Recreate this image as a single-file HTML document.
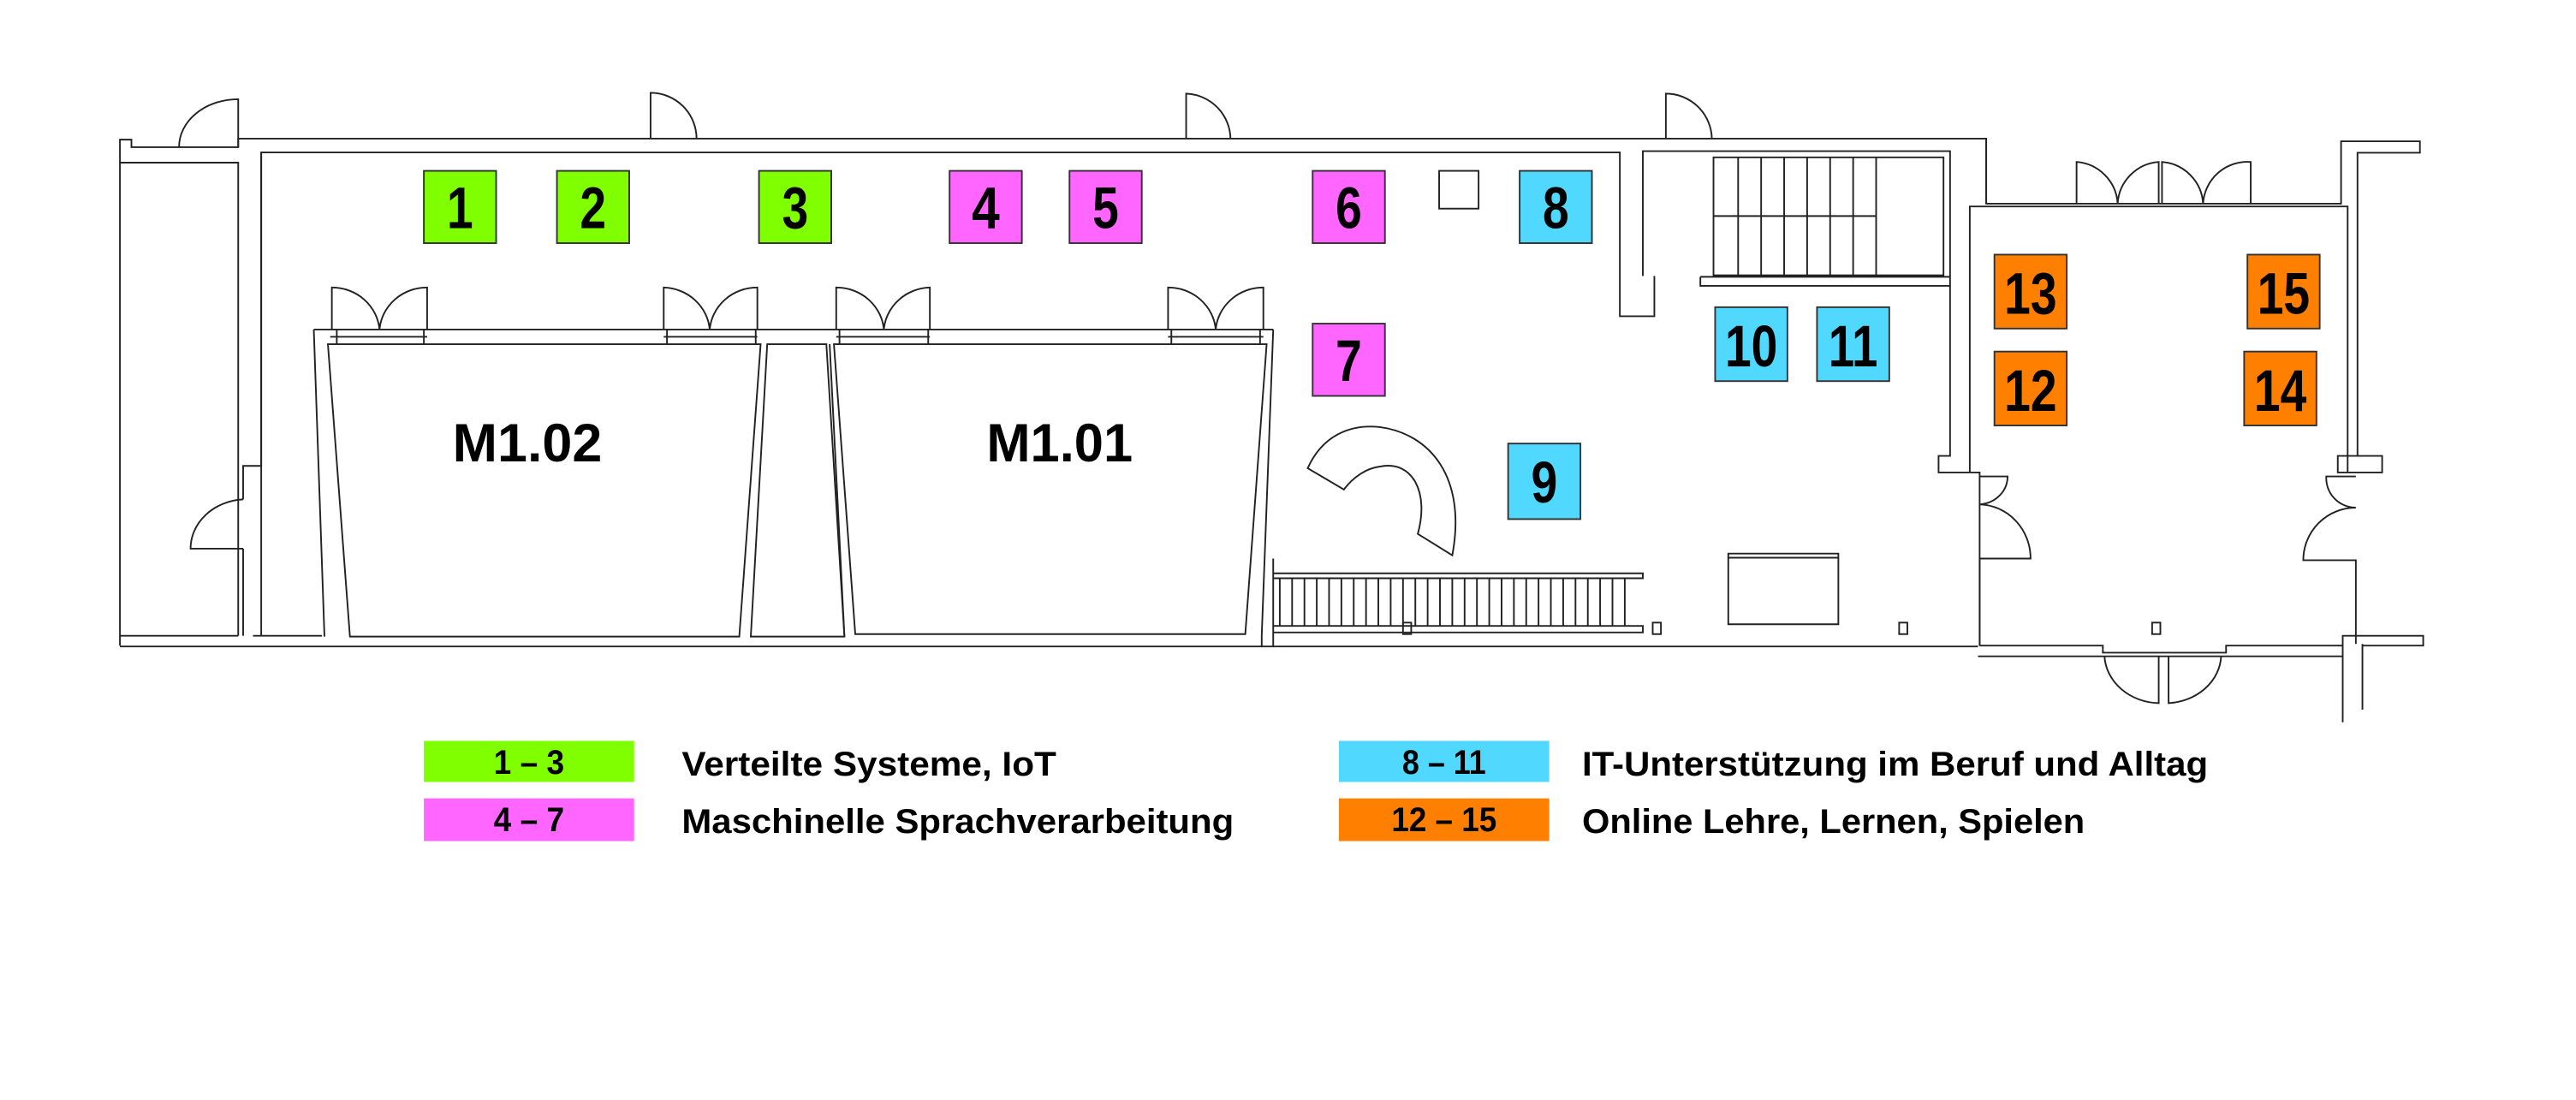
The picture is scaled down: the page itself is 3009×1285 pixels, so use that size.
<!DOCTYPE html>
<html><head><meta charset="utf-8"><style>
html,body{margin:0;padding:0;background:#fff;}
svg{display:block;}
.n{font-family:"Liberation Sans Narrow","Liberation Sans",sans-serif;font-weight:bold;fill:#000;text-anchor:middle;}
.l{font-family:"Liberation Sans Narrow","Liberation Sans",sans-serif;font-weight:bold;fill:#000;}
</style></head><body>
<svg width="3009" height="1285" viewBox="0 0 1568 669.6" preserveAspectRatio="none" xmlns="http://www.w3.org/2000/svg">
<rect width="1568" height="669.6" fill="#fff"/>
<g fill="none" stroke="#222" stroke-width="1">
<path d="M73,393 V85 H80 V89.6 H145 V84.4 H1209 V124"/>
<path d="M73,99 H145 V387"/>
<path d="M159,387 V92.8 H986 V192.5 H1007 V168"/>
<path d="M159,92.8 V283.6 H148 V304"/>
<path d="M148,334 V387"/>
<path d="M73,387 H145 M154,387 H196 M73,393.5 H1204"/>
<path d="M145,89.6 V60.4 A36,29 0 0 0 109,89.6"/>
<path d="M396,84.4 V56.5 A28,28 0 0 1 424,84.4"/>
<path d="M722,84.4 V57 A28,28 0 0 1 749,84.4"/>
<path d="M1014,84.4 V57 A28,28 0 0 1 1042,84.4"/>
<path d="M148,304 A34,30 0 0 0 116,334 H148"/>
<path d="M191,200.6 H775 M191,200.6 L197.5,387.5 M199.6,209.5 H463 L450,387.5 H213 Z"/>
<path d="M467,209.5 H503 L514,387.5 H457 Z"/>
<path d="M507.6,209.5 H771 L758,386 H520.6 Z"/>
<path d="M505,209.5 L514,387.5 M775,200.6 L768,387"/>
<path d="M201,205 H260 M404,205 H461 M509,205 H566 M711,205 H769"/>
<path d="M205,209.5 V200.6 M258,209.5 V200.6 M406,209.5 V200.6 M460,209.5 V200.6 M511,209.5 V200.6 M565,209.5 V200.6 M713,209.5 V200.6 M767,209.5 V200.6"/>
<path d="M202,200.6 V175 A29,28 0 0 1 231,200.6 M260,200.6 V175 A29,28 0 0 0 231,200.6"/>
<path d="M404,200.6 V175 A29,28 0 0 1 432,200.6 M461,200.6 V175 A29,28 0 0 0 432,200.6"/>
<path d="M509,200.6 V175 A29,28 0 0 1 538,200.6 M566,200.6 V175 A29,28 0 0 0 538,200.6"/>
<path d="M711,200.6 V175 A29,28 0 0 1 740,200.6 M769,200.6 V175 A29,28 0 0 0 740,200.6"/>
<path d="M1000,168 V92 H1187 V277.5 H1180 V287.6 H1205 V393"/>
<path d="M1209,84.4 V124 H1425 V86 H1473 V93 H1435 V277.5 H1423 V287.6 H1450 V277.5 H1435"/>
<path d="M1199,287.6 V125.7 H1429 V287.6"/>
<path d="M1043,95.8 H1183 V167.6 H1043 Z M1043,131.5 H1142"/>
<path d="M1058,95.8 V167.6 M1072,95.8 V167.6 M1086,95.8 V167.6 M1100,95.8 V167.6 M1114,95.8 V167.6 M1128,95.8 V167.6 M1142,95.8 V167.6"/>
<path d="M1035,168.5 H1187 M1035,168.5 V174 H1187"/>
<path d="M1264,124 V98.6 A27,27 0 0 1 1289,124 M1314,124 V98.6 A27,27 0 0 0 1289,124"/>
<path d="M1316,124 V98.6 A27,27 0 0 1 1341,124 M1370,124 V98.6 A27,27 0 0 0 1341,124"/>
<path d="M1205,290 H1222 A18,17 0 0 1 1205,307 A32,33 0 0 1 1236,340 H1205 V393"/>
<path d="M1434,290 H1416 A18,18 0 0 0 1434,309 A32,32 0 0 0 1402,341 H1434 V392"/>
<path d="M1205,393 H1280 V397.3 H1355 V393 H1426 V439.7 M1426,393 V387 H1438 M1438,392 V432 M1438,387 H1475 V393 H1438"/>
<path d="M1204,399.5 H1426"/>
<path d="M1281,399.5 A34,30 0 0 0 1314,428 V399.5 M1352,399.5 A34,30 0 0 1 1320,428 V399.5"/>
<path d="M775,349 H1000 V352 H775 M775,381 H1000 V385 H775 M775,340 V393.5 M768,387 V393.5"/>
<path d="M779,352V381M786.5,352V381M794,352V381M801.5,352V381M809,352V381M816.5,352V381M824,352V381M831.5,352V381M839,352V381M846.5,352V381M854,352V381M861.5,352V381M869,352V381M876.5,352V381M884,352V381M891.5,352V381M899,352V381M906.5,352V381M914,352V381M921.5,352V381M929,352V381M936.5,352V381M944,352V381M951.5,352V381M959,352V381M966.5,352V381M974,352V381M981.5,352V381M989,352V381"/>
<path d="M1052,337 H1119 V380 H1052 Z M1052,339.5 H1119"/>
<rect x="854" y="379" width="5" height="7"/>
<rect x="1006" y="379" width="5" height="7"/>
<rect x="1156" y="379" width="5" height="7"/>
<rect x="1310" y="379" width="5" height="7"/>
<rect x="876" y="104" width="24" height="23"/>
<path d="M796,285 C805,265 822,258 840,260 C870,264 893,290 884,338 L863,325 C870,300 860,280 840,284 C832,285 824,290 818,298 Z"/>
</g>
<g stroke="#333" stroke-width="1">
<rect x="258" y="104" width="44" height="44" fill="#80ff00"/>
<rect x="339" y="104" width="44" height="44" fill="#80ff00"/>
<rect x="462" y="104" width="44" height="44" fill="#80ff00"/>
<rect x="578" y="104" width="44" height="44" fill="#ff66ff"/>
<rect x="651" y="104" width="44" height="44" fill="#ff66ff"/>
<rect x="799" y="104" width="44" height="44" fill="#ff66ff"/>
<rect x="799" y="197" width="44" height="44" fill="#ff66ff"/>
<rect x="925" y="104" width="44" height="44" fill="#50d8ff"/>
<rect x="918" y="270" width="44" height="46" fill="#50d8ff"/>
<rect x="1044" y="187" width="44" height="45" fill="#50d8ff"/>
<rect x="1106" y="187" width="44" height="45" fill="#50d8ff"/>
<rect x="1214" y="155" width="44" height="45" fill="#ff8000"/>
<rect x="1368" y="155" width="44" height="45" fill="#ff8000"/>
<rect x="1214" y="214" width="44" height="45" fill="#ff8000"/>
<rect x="1366" y="214" width="44" height="45" fill="#ff8000"/>
</g>
<g class="n" font-size="36">
<text x="280" y="139" textLength="16" lengthAdjust="spacingAndGlyphs">1</text>
<text x="361" y="139" textLength="16" lengthAdjust="spacingAndGlyphs">2</text>
<text x="484" y="139" textLength="16" lengthAdjust="spacingAndGlyphs">3</text>
<text x="600" y="139" textLength="17" lengthAdjust="spacingAndGlyphs">4</text>
<text x="673" y="139" textLength="16" lengthAdjust="spacingAndGlyphs">5</text>
<text x="821" y="139" textLength="16" lengthAdjust="spacingAndGlyphs">6</text>
<text x="821" y="232" textLength="16" lengthAdjust="spacingAndGlyphs">7</text>
<text x="947" y="139" textLength="16" lengthAdjust="spacingAndGlyphs">8</text>
<text x="940" y="306" textLength="16" lengthAdjust="spacingAndGlyphs">9</text>
<text x="1066" y="223" textLength="32" lengthAdjust="spacingAndGlyphs">10</text>
<text x="1128" y="223" textLength="30" lengthAdjust="spacingAndGlyphs">11</text>
<text x="1236" y="191" textLength="32" lengthAdjust="spacingAndGlyphs">13</text>
<text x="1390" y="191" textLength="32" lengthAdjust="spacingAndGlyphs">15</text>
<text x="1236" y="250" textLength="32" lengthAdjust="spacingAndGlyphs">12</text>
<text x="1388" y="250" textLength="32" lengthAdjust="spacingAndGlyphs">14</text>
</g>
<g class="n" font-size="33">
<text x="321" y="281" textLength="91" lengthAdjust="spacingAndGlyphs">M1.02</text>
<text x="645" y="281" textLength="89" lengthAdjust="spacingAndGlyphs">M1.01</text>
</g>
<rect x="258" y="451" width="128" height="25" fill="#80ff00"/>
<rect x="258" y="486" width="128" height="26" fill="#ff66ff"/>
<rect x="815" y="451" width="128" height="25" fill="#50d8ff"/>
<rect x="815" y="486" width="128" height="26" fill="#ff8000"/>
<g class="n" font-size="21">
<text x="322" y="471" textLength="43" lengthAdjust="spacingAndGlyphs">1 – 3</text>
<text x="322" y="506" textLength="43" lengthAdjust="spacingAndGlyphs">4 – 7</text>
<text x="879" y="471" textLength="51" lengthAdjust="spacingAndGlyphs">8 – 11</text>
<text x="879" y="506" textLength="64" lengthAdjust="spacingAndGlyphs">12 – 15</text>
</g>
<g class="l" font-size="21">
<text x="415" y="472" textLength="228" lengthAdjust="spacingAndGlyphs">Verteilte Systeme, IoT</text>
<text x="415" y="507" textLength="336" lengthAdjust="spacingAndGlyphs">Maschinelle Sprachverarbeitung</text>
<text x="963" y="472" textLength="381" lengthAdjust="spacingAndGlyphs">IT-Unterstützung im Beruf und Alltag</text>
<text x="963" y="507" textLength="306" lengthAdjust="spacingAndGlyphs">Online Lehre, Lernen, Spielen</text>
</g>
</svg>
</body></html>
